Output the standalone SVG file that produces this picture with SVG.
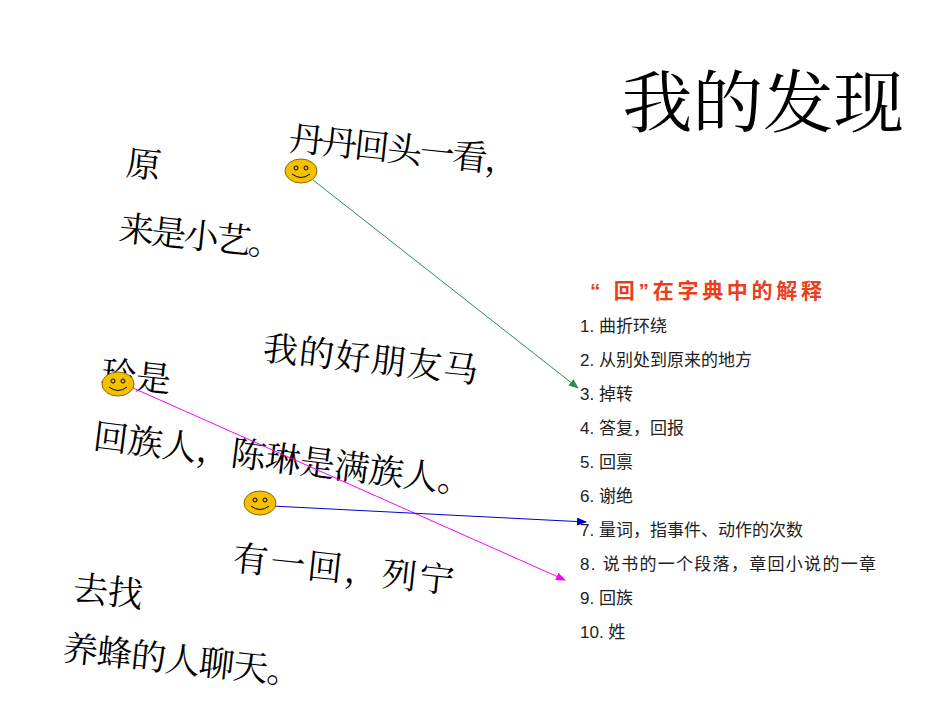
<svg xmlns="http://www.w3.org/2000/svg" width="950" height="713" viewBox="0 0 950 713">
<style>
.t{font-family:"Noto Serif CJK SC","Noto Sans CJK SC",serif;font-size:35px;fill:#000}
.l{font-family:"Liberation Sans","Noto Sans CJK SC",sans-serif;font-size:17px;fill:#222}
.face{fill:#f5c000;stroke:#8a6a00;stroke-width:1}
</style>
<defs>
<marker id="ag" markerWidth="10" markerHeight="8" refX="9" refY="4" orient="auto" markerUnits="userSpaceOnUse"><path d="M0,0L10,4L0,8z" fill="#2e8b57"/></marker>
<marker id="ab" markerWidth="10" markerHeight="8" refX="9" refY="4" orient="auto" markerUnits="userSpaceOnUse"><path d="M0,0L10,4L0,8z" fill="#0000cc"/></marker>
<marker id="am" markerWidth="10" markerHeight="8" refX="9" refY="4" orient="auto" markerUnits="userSpaceOnUse"><path d="M0,0L10,4L0,8z" fill="#ff00ff"/></marker>
<g id="smile"><ellipse cx="0" cy="0" rx="16" ry="12" class="face"/><circle cx="-5" cy="-3" r="2" fill="none" stroke="#000" stroke-width="1"/><circle cx="5" cy="-3" r="2" fill="none" stroke="#000" stroke-width="1"/><path d="M-9,3Q0,10 9,3" fill="none" stroke="#000" stroke-width="1"/></g>
</defs>
<rect width="950" height="713" fill="#fff"/>
<g id="title"><text x="622" y="127" font-family="Noto Serif CJK SC,Noto Sans CJK SC,serif" font-size="68" textLength="282" lengthAdjust="spacingAndGlyphs">我的发现</text></g>
<g id="story">
<text class="t" transform="translate(288,150) rotate(6)" textLength="232">丹丹回头一看，</text>
<text class="t" transform="translate(125,175) rotate(6)">原</text>
<text class="t" transform="translate(118,240) rotate(6)" textLength="165">来是小艺。</text>
<text class="t" transform="translate(262,360) rotate(6)" textLength="216">我的好朋友马</text>
<text class="t" transform="translate(100,385) rotate(6)">玲是</text>
<text class="t" transform="translate(92,448) rotate(7)" textLength="382">回族人，陈琳是满族人。</text>
<text class="t" transform="translate(232,570) rotate(6)" textLength="222">有一回，列宁</text>
<text class="t" transform="translate(72,600) rotate(6)">去找</text>
<text class="t" transform="translate(62,660) rotate(6)" textLength="240">养蜂的人聊天。</text>
</g>
<g id="list">
<text x="590" y="298" font-family="Liberation Sans,Noto Sans CJK SC,sans-serif" font-size="21" font-weight="bold" fill="#e8401c" textLength="232">“ 回”在字典中的解释</text>
<text class="l" x="580" y="332">1. 曲折环绕</text>
<text class="l" x="580" y="366">2. 从别处到原来的地方</text>
<text class="l" x="580" y="400">3. 掉转</text>
<text class="l" x="580" y="434">4. 答复，回报</text>
<text class="l" x="580" y="468">5. 回禀</text>
<text class="l" x="580" y="502">6. 谢绝</text>
<text class="l" x="580" y="536">7. 量词，指事件、动作的次数</text>
<text class="l" x="580" y="570" textLength="296">8. 说书的一个段落，章回小说的一章</text>
<text class="l" x="580" y="604">9. 回族</text>
<text class="l" x="580" y="638">10. 姓</text>
</g>
<g id="connectors" fill="none" stroke-width="1">
<line x1="313" y1="180" x2="578" y2="388" stroke="#2e8b57" marker-end="url(#ag)"/>
<line x1="133" y1="388" x2="565" y2="580" stroke="#ff00ff" marker-end="url(#am)"/>
<line x1="272" y1="506" x2="586" y2="522" stroke="#0000cc" marker-end="url(#ab)"/>
</g>
<g id="smiley1"><use href="#smile" x="301" y="171"/></g>
<g id="smiley2"><use href="#smile" x="118" y="384"/></g>
<g id="smiley3"><use href="#smile" x="260" y="503"/></g>
</svg>
